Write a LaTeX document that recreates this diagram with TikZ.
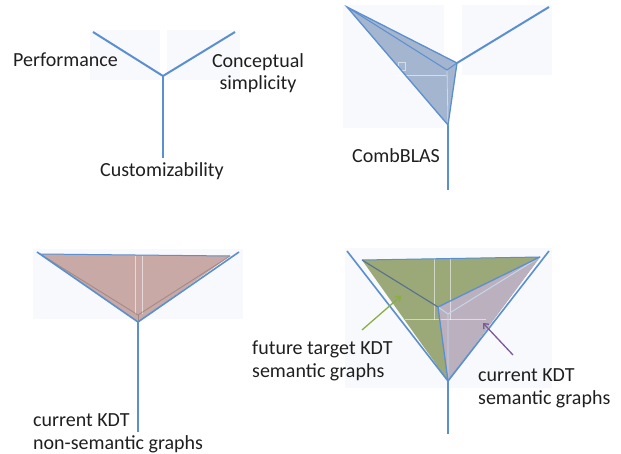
\documentclass[tikz,border=0pt]{standalone}
\usepackage{fontspec}
\setmainfont{Carlito}
\usetikzlibrary{arrows.meta}
\definecolor{axisblue}{HTML}{5B8FCF}
\definecolor{faintbg}{HTML}{F8F9FC}
\definecolor{fillblue}{HTML}{A3B5CF}
\definecolor{fillrose}{HTML}{C8A9A5}
\definecolor{fillgreen}{HTML}{9BA878}
\definecolor{fillviolet}{HTML}{BBB0BE}
\definecolor{edgedark}{HTML}{56708E}
\definecolor{arrgreen}{HTML}{8DAE45}
\definecolor{arrviolet}{HTML}{7A5A9C}
\begin{document}
\begin{tikzpicture}[x=1pt,y=-1pt,
  axisline/.style={draw=axisblue,line width=2pt},
  edgeline/.style={draw=axisblue,line width=1.3pt},
  innerline/.style={draw=axisblue,line width=1pt},
  gridline/.style={draw=white,line width=0.8pt,opacity=0.55},
  bgbox/.style={fill=faintbg},
  lbl/.style={font=\fontsize{20}{22.5}\selectfont,inner sep=0pt,text=black!88},
  pointer/.style={line width=1.3pt,-{Straight Barb[length=4pt,width=7pt]}}]
\useasboundingbox (0,0) rectangle (621,454);

% ---------------- panel 1 ----------------
\coordinate (c1) at (163,76);
\coordinate (l1) at (93,32);
\coordinate (r1) at (235,32);
\coordinate (d1) at (163,158);
\fill[bgbox] (90,30) rectangle (160,80);
\fill[bgbox] (167,30) rectangle (240,80);
\draw[axisline] (l1) -- (c1) -- (r1);
\draw[axisline] (c1) -- (d1);
\node[lbl,anchor=base west] (perf) at (13,67) {Performance};
\node[lbl,anchor=base,align=center] (concept) at (258,90) {Conceptual\\simplicity};
\node[lbl,anchor=base west] (custom) at (100,177) {Customizability};

% ---------------- panel 2 ----------------
\coordinate (c2) at (447,70);
\coordinate (l2) at (347,7);
\coordinate (r2) at (549,7);
\coordinate (d2) at (448,190);
\coordinate (t2) at (457,63);
\coordinate (b2) at (448,125);
\fill[bgbox] (343,5) rectangle (444,128);
\fill[bgbox] (462,5) rectangle (552,75);
\fill[fillblue] (l2) -- (t2) -- (b2) -- cycle;
\draw[gridline] (395,75) -- (446,75);
\draw[gridline] (398,62) rectangle (405,70);
\draw[draw=white,line width=0.8pt,opacity=0.5] (c2) -- (b2);
\draw[innerline] (l2) -- (c2) -- (t2);
\draw[edgeline] (l2) -- (t2) -- (b2) -- cycle;
\draw[axisline] (t2) -- (r2);
\draw[axisline] (b2) -- (d2);
\node[lbl,anchor=base west] (comb) at (352,163) {CombBLAS};

% ---------------- panel 3 ----------------
\coordinate (c3) at (138,315);
\coordinate (l3) at (37,252);
\coordinate (r3) at (239,252);
\coordinate (d3) at (138,432);
\coordinate (a3) at (40,254);
\coordinate (b3) at (230,256);
\coordinate (e3) at (138,322);
\fill[bgbox] (33,249) rectangle (243,319);
\fill[fillrose] (a3) -- (b3) -- (e3) -- cycle;
\draw[gridline] (135,256) -- (135,314);
\draw[gridline] (142,256) -- (142,314);
\draw[draw=fillrose!70!black,line width=0.9pt,opacity=0.6] (a3) -- (c3) -- (b3);
\draw[draw=fillrose!70!black,line width=0.9pt,opacity=0.6] (c3) -- (e3);
\draw[innerline] (a3) -- (b3);
\draw[edgeline,line width=1.6pt] (l3) -- (e3) -- (r3);
\draw[axisline] (e3) -- (d3);
\node[lbl,anchor=base west,align=left] (kdtns) at (33,449) {current KDT\\non-semantic graphs};

% ---------------- panel 4 ----------------
\coordinate (c4) at (448,314);
\coordinate (l4) at (347,251);
\coordinate (r4) at (549,251);
\coordinate (d4) at (448,434);
\coordinate (a4) at (362,260);
\coordinate (b4) at (540,257);
\coordinate (e4) at (448,381);
\coordinate (p4) at (438,307);
\fill[bgbox] (345,248) rectangle (552,388);
\fill[fillgreen] (a4) -- (b4) -- (e4) -- cycle;
\fill[fillviolet] (p4) -- (b4) -- (e4) -- cycle;
\draw[gridline] (434,258) -- (434,320);
\draw[gridline] (450,258) -- (450,320);
\draw[gridline] (405,319) -- (486,319);
\draw[draw=axisblue!35,line width=0.9pt] (c4) -- (b4);
\draw[draw=axisblue!35,line width=0.9pt] (p4) -- (c4) -- (e4);
\draw[draw=edgedark,line width=1.1pt] (a4) -- (p4);
\draw[innerline] (a4) -- (b4);
\draw[edgeline] (b4) -- (p4) -- (e4);
\draw[edgeline,line width=1.6pt] (l4) -- (e4) -- (r4);
\draw[axisline] (e4) -- (d4);
\coordinate (g1) at (362,330);
\coordinate (g2) at (401,296);
\coordinate (v1) at (513,355);
\coordinate (v2) at (483,323);
\draw[pointer,draw=arrgreen] (g1) -- (g2);
\draw[pointer,draw=arrviolet] (v1) -- (v2);
\node[lbl,anchor=base west,align=left] (future) at (252,377) {future target KDT\\semantic graphs};
\node[lbl,anchor=base west,align=left] (kdts) at (478,404) {current KDT\\semantic graphs};
\end{tikzpicture}
\end{document}
